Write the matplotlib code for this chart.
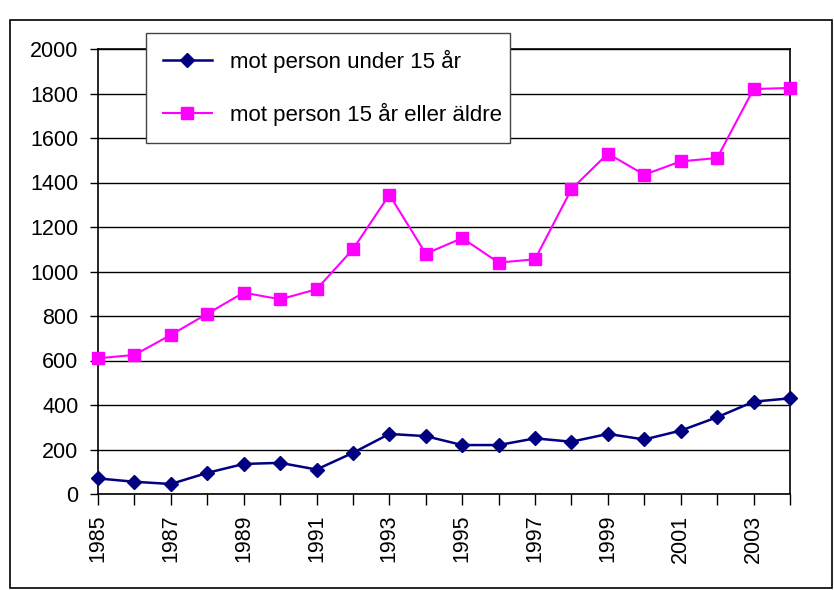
import matplotlib
matplotlib.use("Agg")
import matplotlib.pyplot as plt
from matplotlib.patches import Rectangle

plt.rcParams['font.family'] = ['Liberation Sans', 'DejaVu Sans']

years = list(range(1985, 2005))
under15 = [70, 55, 45, 95, 135, 140, 110, 185, 270, 260,
           220, 220, 250, 235, 270, 245, 285, 345, 415, 430]
over15 = [610, 625, 715, 810, 905, 875, 920, 1100, 1345, 1080,
          1150, 1040, 1055, 1370, 1530, 1435, 1495, 1510, 1820, 1825]
labels = ["mot person under 15 år", "mot person 15 år eller äldre"]

fig = plt.figure(figsize=(8.34, 5.90), dpi=100)
# outer chart frame
fig.patches.append(Rectangle((10 / 834, 0.003), 822 / 834, 1 - 20 / 590 - 0.003,
                             transform=fig.transFigure, fill=False,
                             edgecolor='black', linewidth=1.2))

ax = fig.add_axes([98 / 834, 1 - 494 / 590, 692 / 834, 445 / 590])
ax.plot(years, under15, color='#000080', marker='D', markersize=7,
        linewidth=1.8, label=labels[0], clip_on=False, zorder=3)
ax.plot(years, over15, color='#FF00FF', marker='s', markersize=8,
        linewidth=1.5, label=labels[1], clip_on=False, zorder=3)

ax.set_xlim(1985, 2004)
ax.set_ylim(0, 2000)
ax.set_yticks(range(0, 2001, 200))
ax.set_xticks(years)
ax.set_xticklabels([str(y) if y % 2 == 1 else "" for y in years], rotation=90)
ax.yaxis.grid(True, color='black', linewidth=1)
ax.set_axisbelow(True)
for s in ax.spines.values():
    s.set_linewidth(1.2)
ax.tick_params(axis='both', labelsize=15.5, direction='out', width=1)
ax.tick_params(axis='y', length=6, pad=8)
ax.tick_params(axis='x', length=8, pad=7)

leg = ax.legend(loc='upper left',
                bbox_to_anchor=(146 / 834, 1 - 138 / 590, 364 / 834, 105 / 590),
                bbox_transform=fig.transFigure, mode='expand', borderaxespad=0,
                fontsize=16, fancybox=False, framealpha=1, edgecolor='#444444',
                labelspacing=1.35, handlelength=2.2, borderpad=0.75,
                handletextpad=0.85)
leg.get_frame().set_linewidth(1)

fig.savefig("out.png", dpi=100)
